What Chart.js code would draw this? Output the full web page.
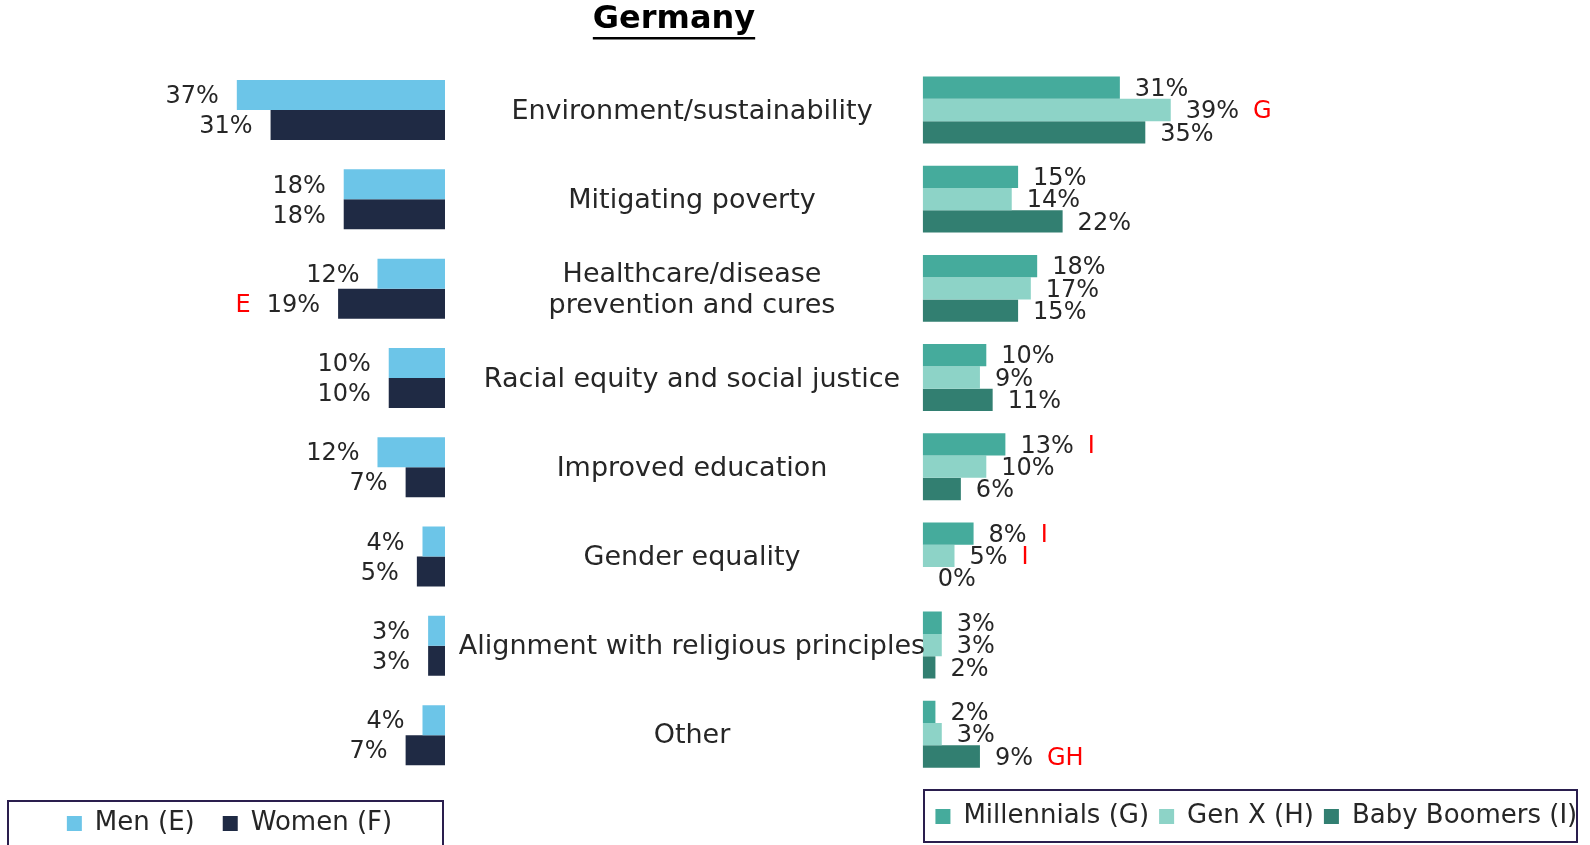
<!DOCTYPE html>
<html><head><meta charset="utf-8">
<script src="https://cdn.jsdelivr.net/npm/chart.js@4.4.1/dist/chart.umd.min.js"></script>
<style>
html,body{margin:0;padding:0;background:#fff;}
#wrap{position:relative;width:1590px;height:845px;overflow:hidden;background:#fff;}
canvas{position:absolute;left:0;top:0;}
</style></head><body>
<div id="wrap"><canvas id="left" width="1590" height="850"></canvas><canvas id="right" width="1590" height="850"></canvas></div>
<script>
const chartTitle = 'Germany';
const categories = [
  'Environment/sustainability',
  'Mitigating poverty',
  ['Healthcare/disease', 'prevention and cures'],
  'Racial equity and social justice',
  'Improved education',
  'Gender equality',
  'Alignment with religious principles',
  'Other'
];
const menValues        = [37, 18, 12, 10, 12, 4, 3, 4];
const womenValues      = [31, 18, 19, 10, 7, 5, 3, 7];
const millennialValues = [31, 15, 18, 10, 13, 8, 3, 2];
const genXValues       = [39, 14, 17, 9, 10, 5, 3, 3];
const boomerValues     = [35, 22, 15, 11, 6, 0, 2, 9];
const menSig        = ['', '', '', '', '', '', '', ''];
const womenSig      = ['', '', 'E', '', '', '', '', ''];
const millennialSig = ['', '', '', '', 'I', 'I', '', ''];
const genXSig       = ['G', '', '', '', '', 'I', '', ''];
const boomerSig     = ['', '', '', '', '', '', '', 'GH'];

const FONT = '"DejaVu Sans", sans-serif';
const TEXT = '#262626';
Chart.defaults.font.family = FONT;
Chart.defaults.color = TEXT;

const valueLabels = {
  id: 'valueLabels',
  afterDatasetsDraw(chart, args, opts) {
    const ctx = chart.ctx;
    ctx.save();
    ctx.font = '24px ' + FONT;
    ctx.textBaseline = 'middle';
    chart.data.datasets.forEach((ds, di) => {
      const meta = chart.getDatasetMeta(di);
      meta.data.forEach((bar, i) => {
        const txt = ds.data[i] + '%';
        const sig = ds.sig ? ds.sig[i] : '';
        const y = bar.y + 2;
        const w = ctx.measureText(txt).width;
        if (opts.side === 'left') {
          const x = bar.x - opts.gap;
          ctx.textAlign = 'right';
          ctx.fillStyle = TEXT;
          ctx.fillText(txt, x, y);
          if (sig) { ctx.fillStyle = '#FF0000'; ctx.fillText(sig, x - w - opts.sigGap, y); }
        } else {
          const x = bar.x + opts.gap;
          ctx.textAlign = 'left';
          ctx.fillStyle = TEXT;
          ctx.fillText(txt, x, y);
          if (sig) { ctx.fillStyle = '#FF0000'; ctx.fillText(sig, x + w + opts.sigGap, y); }
        }
      });
    });
    ctx.restore();
  }
};

const legendFrame = {
  id: 'legendFrame',
  afterDraw(chart, args, opts) {
    const ctx = chart.ctx;
    ctx.save();
    ctx.strokeStyle = '#2A1E4E';
    ctx.lineWidth = 2;
    const r = opts.rect;
    ctx.strokeRect(r[0], r[1], r[2], r[3]);
    ctx.restore();
  }
};

const categoryLabels = {
  id: 'categoryLabels',
  afterDatasetsDraw(chart, args, opts) {
    const ctx = chart.ctx;
    const ys = chart.scales.y;
    ctx.save();
    ctx.font = '27px ' + FONT;
    ctx.textAlign = 'center';
    ctx.textBaseline = 'middle';
    ctx.fillStyle = TEXT;
    chart.data.labels.forEach((lab, i) => {
      const yc = ys.getPixelForValue(i) + opts.dy;
      const lines = Array.isArray(lab) ? lab : [lab];
      lines.forEach((ln, k) => {
        ctx.fillText(ln, opts.x, yc + (k - (lines.length - 1) / 2) * opts.lineHeight);
      });
    });
    ctx.restore();
  }
};

const titlePlugin = {
  id: 'underlinedTitle',
  afterDraw(chart, args, opts) {
    const ctx = chart.ctx;
    ctx.save();
    ctx.font = 'bold 32px ' + FONT;
    ctx.textAlign = 'center';
    ctx.textBaseline = 'alphabetic';
    ctx.fillStyle = '#000';
    ctx.fillText(opts.text, opts.x, opts.y);
    const w = ctx.measureText(opts.text).width;
    ctx.fillRect(opts.x - w / 2, opts.y + 9, w, 2.5);
    ctx.restore();
  }
};

const legendOpts = (pad, titleGap) => ({
  position: 'bottom',
  title: { display: titleGap > 0, text: '', font: { size: 1 }, padding: { top: titleGap, bottom: 0 } },
  labels: { boxWidth: 15, boxHeight: 15, padding: pad, color: TEXT, font: { size: 26, family: FONT } }
});

new Chart(document.getElementById('left'), {
  type: 'bar',
  data: {
    labels: categories,
    datasets: [
      { label: 'Men (E)', data: menValues, backgroundColor: '#6CC5E8', sig: menSig },
      { label: 'Women (F)', data: womenValues, backgroundColor: '#1F2A44', sig: womenSig }
    ]
  },
  options: {
    indexAxis: 'y',
    responsive: false,
    animation: false,
    devicePixelRatio: 1,
    datasets: { bar: { categoryPercentage: 0.672, barPercentage: 1 } },
    layout: { padding: { left: 14, right: 1145, top: 65.4, bottom: 3.5 } },
    scales: {
      x: { display: false, reverse: true, min: 0, max: 76.6 },
      y: { display: false }
    },
    plugins: {
      legend: legendOpts(28, 1.5),
      tooltip: { enabled: false },
      valueLabels: { side: 'left', gap: 18, sigGap: 16 },
      legendFrame: { rect: [8, 801, 435, 60] }
    }
  },
  plugins: [valueLabels, legendFrame]
});

new Chart(document.getElementById('right'), {
  type: 'bar',
  data: {
    labels: categories,
    datasets: [
      { label: 'Millennials (G)', data: millennialValues, backgroundColor: '#45AB9C', sig: millennialSig },
      { label: 'Gen X (H)', data: genXValues, backgroundColor: '#8DD3C7', sig: genXSig },
      { label: 'Baby Boomers (I)', data: boomerValues, backgroundColor: '#327F71', sig: boomerSig }
    ]
  },
  options: {
    indexAxis: 'y',
    responsive: false,
    animation: false,
    devicePixelRatio: 1,
    datasets: { bar: { categoryPercentage: 0.75, barPercentage: 1 } },
    layout: { padding: { left: 922.7, right: 0, top: 65.4, bottom: 10.5 } },
    scales: {
      x: { display: false, min: 0, max: 104.92 },
      y: { display: false }
    },
    plugins: {
      legend: legendOpts(10, 13.5),
      tooltip: { enabled: false },
      valueLabels: { side: 'right', gap: 15, sigGap: 14 },
      legendFrame: { rect: [924, 790, 653, 52] },
      categoryLabels: { x: 692, lineHeight: 31, dy: 2 },
      underlinedTitle: { text: chartTitle, x: 674, y: 28 }
    }
  },
  plugins: [valueLabels, legendFrame, categoryLabels, titlePlugin]
});
</script>
</body></html>
